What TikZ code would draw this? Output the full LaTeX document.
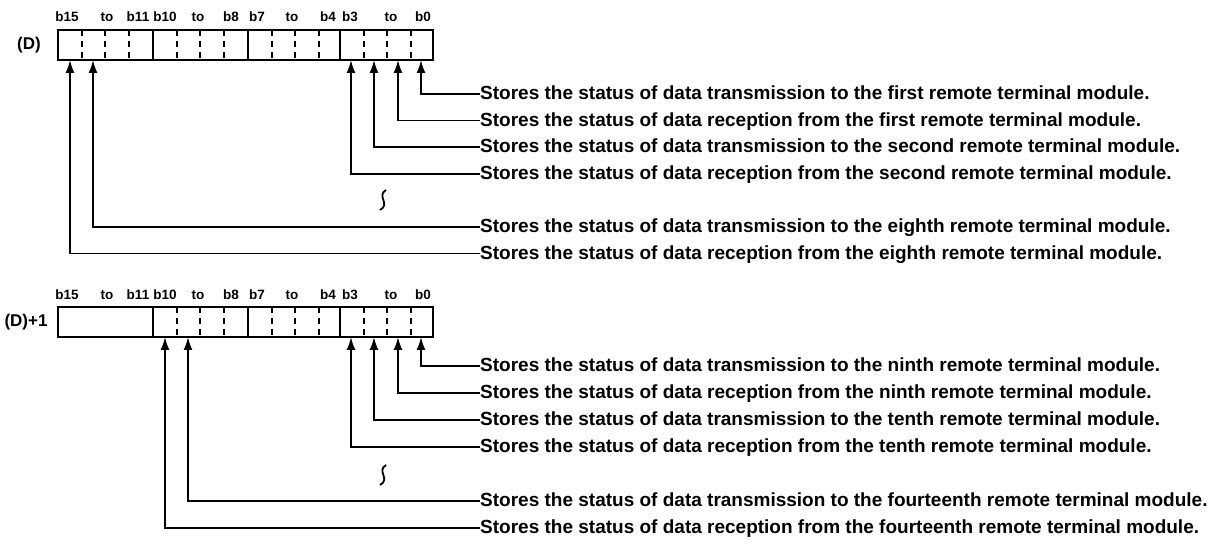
\documentclass[tikz,border=0pt]{standalone}
\usepackage{fontspec}
\setmainfont{Liberation Sans}
\usetikzlibrary{arrows.meta}
\begin{document}
\begin{tikzpicture}[x=1pt,y=-1pt,>={Latex[length=13pt,width=9pt]},
  every node/.style={font=\bfseries},
  msg/.style={anchor=west,inner sep=0pt,text height=11pt,text depth=0pt,font=\bfseries\fontsize{19}{21}\selectfont},
  hd/.style={inner sep=0pt,font=\bfseries\fontsize{13.5}{15}\selectfont},
  regname/.style={inner sep=0pt,font=\bfseries\fontsize{17}{19}\selectfont},
  reg/.style={draw,line width=2.2pt,minimum width=375pt,minimum height=30pt,inner sep=0pt},
  grp/.style={line width=2pt},
  sep/.style={line width=2pt,dash pattern=on 6pt off 5pt},
  lead/.style={->,line width=1.8pt},
  brk/.style={line width=1.8pt}]
\useasboundingbox (0,0) rectangle (1219,545);
% register (D)
\node[regname] (dn) at (29,45) {(D)};
\node[reg] (d) at (245.5,45) {};
\foreach \x in {153,248,340} \draw[grp] (\x,30) -- (\x,60);
\foreach \x in {81.5,105,128.5,176.5,200,224,271.5,295,318.5,363.5,387,410.5} \draw[sep] (\x,30) -- (\x,60);
\node[hd] (h1) at (67,17) {b15};  \node[hd] (h2) at (107,17) {to};  \node[hd] (h3) at (138,17) {b11};
\node[hd] (h4) at (165,17) {b10}; \node[hd] (h5) at (198,17) {to};  \node[hd] (h6) at (231,17) {b8};
\node[hd] (h7) at (257,17) {b7};  \node[hd] (h8) at (292,17) {to};  \node[hd] (h9) at (328,17) {b4};
\node[hd] (h10) at (350,17) {b3}; \node[hd] (h11) at (391,17) {to}; \node[hd] (h12) at (423,17) {b0};
\coordinate (d15) at (70,60);  \coordinate (d14) at (93,60);
\coordinate (d3) at (351,60);  \coordinate (d2) at (374,60);
\coordinate (d1) at (398,60);  \coordinate (d0) at (421,60);
\node[msg] (s0) at (480,94) {Stores the status of data transmission to the first remote terminal module.};
\node[msg] (s1) at (480,120.6) {Stores the status of data reception from the first remote terminal module.};
\node[msg] (s2) at (480,147.2) {Stores the status of data transmission to the second remote terminal module.};
\node[msg] (s3) at (480,173.8) {Stores the status of data reception from the second remote terminal module.};
\node[msg] (s14) at (480,227) {Stores the status of data transmission to the eighth remote terminal module.};
\node[msg] (s15) at (480,253.6) {Stores the status of data reception from the eighth remote terminal module.};
\draw[lead] (s0.west) -| (d0);
\draw[lead] (s1.west) -| (d1);
\draw[lead] (s2.west) -| (d2);
\draw[lead] (s3.west) -| (d3);
\draw[lead] (s14.west) -| (d14);
\draw[lead] (s15.west) -| (d15);
\draw[brk] (386,190) .. controls (376,196) and (391,204) .. (380,210);
% register (D)+1
\node[regname] (en) at (26,322) {(D)+1};
\node[reg] (e) at (245.5,322) {};
\foreach \x in {153,248,340} \draw[grp] (\x,307) -- (\x,337);
\foreach \x in {176.5,200,224,271.5,295,318.5,363.5,387,410.5} \draw[sep] (\x,307) -- (\x,337);
\node[hd] (k1) at (67,295) {b15};  \node[hd] (k2) at (107,295) {to};  \node[hd] (k3) at (138,295) {b11};
\node[hd] (k4) at (165,295) {b10}; \node[hd] (k5) at (198,295) {to};  \node[hd] (k6) at (231,295) {b8};
\node[hd] (k7) at (257,295) {b7};  \node[hd] (k8) at (292,295) {to};  \node[hd] (k9) at (328,295) {b4};
\node[hd] (k10) at (350,295) {b3}; \node[hd] (k11) at (391,295) {to}; \node[hd] (k12) at (423,295) {b0};
\coordinate (e11) at (165,337); \coordinate (e10) at (188,337);
\coordinate (e3) at (351,337);  \coordinate (e2) at (374,337);
\coordinate (e1) at (398,337);  \coordinate (e0) at (421,337);
\node[msg] (t0) at (480,366) {Stores the status of data transmission to the ninth remote terminal module.};
\node[msg] (t1) at (480,393) {Stores the status of data reception from the ninth remote terminal module.};
\node[msg] (t2) at (480,420) {Stores the status of data transmission to the tenth remote terminal module.};
\node[msg] (t3) at (480,447) {Stores the status of data reception from the tenth remote terminal module.};
\node[msg] (t10) at (480,501) {Stores the status of data transmission to the fourteenth remote terminal module.};
\node[msg] (t11) at (480,528) {Stores the status of data reception from the fourteenth remote terminal module.};
\draw[lead] (t0.west) -| (e0);
\draw[lead] (t1.west) -| (e1);
\draw[lead] (t2.west) -| (e2);
\draw[lead] (t3.west) -| (e3);
\draw[lead] (t10.west) -| (e10);
\draw[lead] (t11.west) -| (e11);
\draw[brk] (386,465) .. controls (376,471) and (391,479) .. (380,485);
\end{tikzpicture}
\end{document}
